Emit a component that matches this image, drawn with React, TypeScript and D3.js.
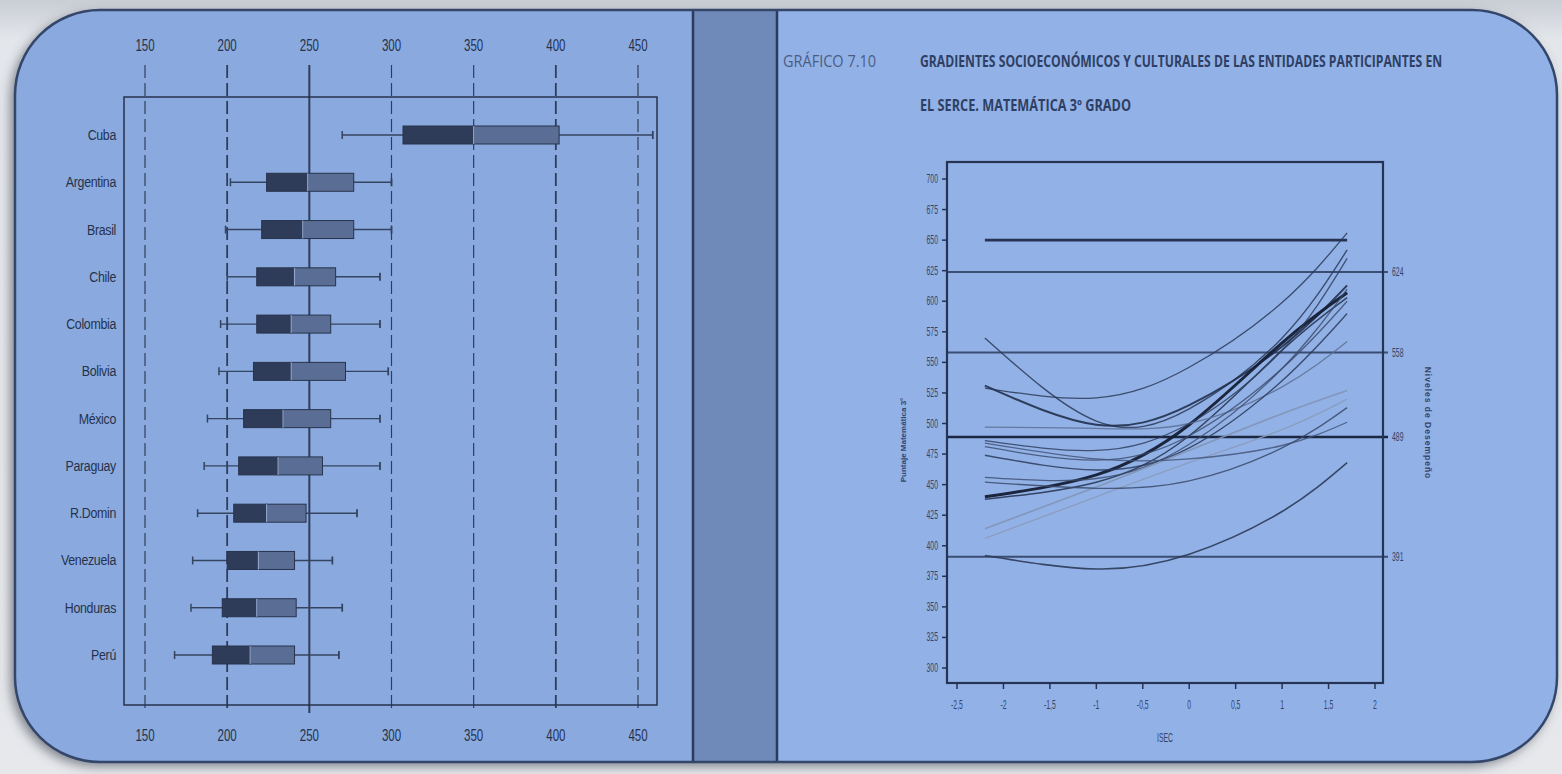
import React, { useEffect, useRef, useState } from "react";
import * as d3 from "d3";

// ---------- Left panel: box plots ----------
const countries = ["Cuba", "Argentina", "Brasil", "Chile", "Colombia", "Bolivia", "México", "Paraguay", "R.Domin", "Venezuela", "Honduras", "Perú"];
const whiskerLow = [270, 202, 199, 200, 196, 195, 188, 186, 182, 179, 178, 168];
const q1 = [307, 224, 221, 218, 218, 216, 210, 207, 204, 200, 197, 191];
const median = [350, 249, 246, 241, 239, 239, 234, 231, 224, 219, 218, 214];
const q3 = [402, 277, 277, 266, 263, 272, 263, 258, 248, 241, 242, 241];
const whiskerHigh = [459, 300, 300, 293, 293, 298, 293, 293, 279, 264, 270, 268];
const leftTicks = [150, 200, 250, 300, 350, 400, 450];

// ---------- Right panel: socioeconomic gradients ----------
const isecPoints = [-2.2, -1, 0, 1, 1.7];
const gradC = [529, 521, 546, 599, 656];
const gradA = [570, 502, 512, 570, 642];
const gradB = [531, 499, 515, 563, 613];
const gradThick1 = [440, 458, 499, 566, 607];
const gradThick2 = [438, 452, 490, 560, 603];
const gradFlat = [497, 496, 500, 530, 567];
const grad486 = [486, 478, 500, 560, 635];
const grad481 = [481, 470, 490, 545, 600];
const grad474 = [474, 462, 480, 535, 590];
const grad456 = [456, 455, 483, 545, 610];
const gradLight1 = [414, 448, 478, 508, 527];
const gradLight2 = [406, 440, 468, 495, 520];
const grad484 = [484, 471, 471, 482, 501];
const grad452 = [452, 447, 453, 480, 513];
const gradBottom = [392, 381, 393, 428, 468];
const topRefLine = [650, 650];
const topRefX = [-2.2, 1.7];
const levelCuts = [624, 558, 489, 391];
const levelLabels = ["624", "558", "489", "391"];
const xTicksR = [-2.5, -2, -1.5, -1, -0.5, 0, 0.5, 1, 1.5, 2];
const xTickLabelsR = ["-2,5", "-2", "-1,5", "-1", "-0,5", "0", "0,5", "1", "1,5", "2"];
const yTicksR = [300, 325, 350, 375, 400, 425, 450, 475, 500, 525, 550, 575, 600, 625, 650, 675, 700];

const chartLabel = "GRÁFICO 7.10";
const titleLine1 = "GRADIENTES SOCIOECONÓMICOS Y CULTURALES DE LAS ENTIDADES PARTICIPANTES EN";
const titleLine2 = "EL SERCE. MATEMÁTICA 3º GRADO";

const W = 1562;
const H = 774;

function FitText(props: { x: number; y: number; width: number; text: string; fontSize: number; fontWeight?: number; fill: string }) {
  const ref = useRef<SVGTextElement>(null);
  const [sx, setSx] = useState(0.75);
  useEffect(() => {
    if (ref.current) {
      const len = ref.current.getComputedTextLength();
      if (len > 0) setSx(props.width / len);
    }
  }, [props.text, props.width]);
  return (
    <text
      ref={ref}
      transform={`translate(${props.x},${props.y}) scale(${sx},1)`}
      fontFamily="'Open Sans', sans-serif"
      fontSize={props.fontSize}
      fontWeight={props.fontWeight || 400}
      fill={props.fill}
    >
      {props.text}
    </text>
  );
}

export default function App() {
  const xL = d3.scaleLinear().domain([150, 450]).range([145, 638]);
  const yL = d3.scalePoint<string>().domain(countries).range([135, 655]);

  const xR = d3.scaleLinear().domain([-2.5, 2]).range([957, 1375]);
  const yR = d3.scaleLinear().domain([300, 700]).range([668, 179]);

  const line = d3
    .line<number>()
    .x((_, i) => xR(isecPoints[i]))
    .y((v) => yR(v))
    .curve(d3.curveNatural);

  const curves: { d: number[]; color: string; w: number; op: number }[] = [
    { d: gradC, color: "#2c3a58", w: 1.3, op: 0.85 },
    { d: gradA, color: "#2c3a58", w: 1.4, op: 0.85 },
    { d: gradB, color: "#22304c", w: 2, op: 0.9 },
    { d: gradThick1, color: "#151f35", w: 3, op: 0.95 },
    { d: gradThick2, color: "#22304c", w: 1.5, op: 0.85 },
    { d: gradFlat, color: "#5d6f93", w: 1.3, op: 0.85 },
    { d: grad486, color: "#2c3a58", w: 1.3, op: 0.8 },
    { d: grad481, color: "#3a4968", w: 1.3, op: 0.8 },
    { d: grad474, color: "#2c3a58", w: 1.4, op: 0.85 },
    { d: grad456, color: "#3a4968", w: 1.3, op: 0.8 },
    { d: gradLight1, color: "#8193b4", w: 1.6, op: 0.9 },
    { d: gradLight2, color: "#8a9bba", w: 1.4, op: 0.9 },
    { d: grad484, color: "#44557a", w: 1.3, op: 0.85 },
    { d: grad452, color: "#3a4968", w: 1.3, op: 0.85 },
    { d: gradBottom, color: "#2c3a58", w: 1.6, op: 0.9 },
  ];

  const dark = "#26324d";
  const boxH = 18;
  const tickFill = "#34446a";

  return (
    <svg width={W} height={H} style={{ position: "absolute", left: 0, top: 0 }} fontFamily="'Liberation Sans', Arial, sans-serif">
      <defs>
        <filter id="shadow" x="-5%" y="-5%" width="110%" height="110%">
          <feDropShadow dx="-4" dy="4" stdDeviation="6" floodColor="#4a4f5a" floodOpacity="0.7" />
        </filter>
        <clipPath id="card">
          <rect x={15} y={10} width={1542} height={752} rx={85} ry={85} />
        </clipPath>
        <linearGradient id="bgGrad" x1="0" y1="0" x2="0" y2="1">
          <stop offset="0" stopColor="#c9cdd4" />
          <stop offset="0.05" stopColor="#e3e6eb" />
          <stop offset="1" stopColor="#e6e8ec" />
        </linearGradient>
      </defs>

      <rect x={0} y={0} width={W} height={H} fill="url(#bgGrad)" />
      <rect x={15} y={10} width={1542} height={752} rx={85} ry={85} fill="#8aaade" filter="url(#shadow)" />

      <g clipPath="url(#card)">
        <rect x={15} y={10} width={680} height={752} fill="#8aaadf" />
        <rect x={693} y={10} width={84} height={752} fill="#6f8ab8" />
        <rect x={777} y={10} width={780} height={752} fill="#92b2e7" />
        <line x1={693} x2={693} y1={10} y2={762} stroke="#2b3b5c" strokeWidth={2.5} />
        <line x1={777} x2={777} y1={10} y2={762} stroke="#2b3b5c" strokeWidth={2.5} />
      </g>
      <rect x={15} y={10} width={1542} height={752} rx={85} ry={85} fill="none" stroke="#34466a" strokeWidth={2.5} />

      {/* ---------------- Left panel ---------------- */}
      <g>
        {leftTicks.map((t) => (
          <line
            key={"g" + t}
            x1={xL(t)}
            x2={xL(t)}
            y1={65}
            y2={713}
            stroke={dark}
            strokeWidth={t === 250 ? 2 : t === 200 || t === 400 ? 1.8 : 1.2}
            strokeDasharray={t === 250 ? undefined : "13,5"}
            opacity={0.9}
          />
        ))}
        <rect x={124} y={97} width={533} height={608} fill="none" stroke={dark} strokeWidth={1.5} />
        {leftTicks.map((t) => (
          <g key={"tl" + t} fill={dark} fontSize={16} textAnchor="middle">
            <text transform={`translate(${xL(t)},51) scale(0.72,1)`}>{t}</text>
            <text transform={`translate(${xL(t)},741) scale(0.72,1)`}>{t}</text>
          </g>
        ))}
        {countries.map((c, i) => {
          const y = yL(c) as number;
          return (
            <g key={c}>
              <text transform={`translate(116,${y + 5}) scale(0.8,1)`} textAnchor="end" fontSize={15.5} fill={dark} letterSpacing={-0.4}>
                {c}
              </text>
              <line x1={xL(whiskerLow[i])} x2={xL(q1[i])} y1={y} y2={y} stroke="#34435f" strokeWidth={1.4} />
              <line x1={xL(q3[i])} x2={xL(whiskerHigh[i])} y1={y} y2={y} stroke="#34435f" strokeWidth={1.4} />
              <line x1={xL(whiskerLow[i])} x2={xL(whiskerLow[i])} y1={y - 4} y2={y + 4} stroke="#34435f" strokeWidth={1.5} />
              <line x1={xL(whiskerHigh[i])} x2={xL(whiskerHigh[i])} y1={y - 4} y2={y + 4} stroke="#34435f" strokeWidth={1.8} />
              <rect x={xL(q1[i])} y={y - boxH / 2} width={xL(median[i]) - xL(q1[i])} height={boxH} fill="#2f3c59" stroke="#27334d" strokeWidth={1} />
              <rect x={xL(median[i])} y={y - boxH / 2} width={xL(q3[i]) - xL(median[i])} height={boxH} fill="#5a6e95" stroke="#27334d" strokeWidth={1} />
              <line x1={xL(median[i])} x2={xL(median[i])} y1={y - boxH / 2} y2={y + boxH / 2} stroke="#8fa4c8" strokeWidth={1.2} />
            </g>
          );
        })}
      </g>

      {/* ---------------- Right panel ---------------- */}
      <g>
        <FitText x={783} y={67} width={93} text={chartLabel} fontSize={16} fill="#4a5c82" />
        <FitText x={920} y={67} width={522} text={titleLine1} fontSize={16} fontWeight={700} fill="#2f3f63" />
        <FitText x={920} y={111} width={211} text={titleLine2} fontSize={16} fontWeight={700} fill="#2f3f63" />

        {/* reference lines */}
        {levelCuts.map((v) => (
          <line
            key={"lv" + v}
            x1={947}
            x2={1388}
            y1={yR(v)}
            y2={yR(v)}
            stroke={v === 489 ? "#1b2640" : "#3b4d72"}
            strokeWidth={v === 489 ? 2.6 : 2}
          />
        ))}
        <line x1={xR(topRefX[0])} x2={xR(topRefX[1])} y1={yR(topRefLine[0])} y2={yR(topRefLine[1])} stroke="#263352" strokeWidth={2.6} />

        {curves.map((c, i) => (
          <path key={"c" + i} d={line(c.d) || ""} fill="none" stroke={c.color} strokeWidth={c.w} opacity={c.op} />
        ))}

        <rect x={947} y={162} width={436} height={521} fill="none" stroke="#263352" strokeWidth={2.2} />

        {yTicksR.map((t) => (
          <g key={"yt" + t}>
            <line x1={942} x2={947} y1={yR(t)} y2={yR(t)} stroke="#263352" strokeWidth={1.5} />
            <text transform={`translate(938,${yR(t) + 4}) scale(0.55,1)`} textAnchor="end" fontSize={12.5} fill={tickFill}>
              {t}
            </text>
          </g>
        ))}
        {xTicksR.map((t, i) => (
          <g key={"xt" + t}>
            <line x1={xR(t)} x2={xR(t)} y1={683} y2={689} stroke="#263352" strokeWidth={1.5} />
            <text transform={`translate(${xR(t)},709) scale(0.55,1)`} textAnchor="middle" fontSize={12.5} fill={tickFill}>
              {xTickLabelsR[i]}
            </text>
          </g>
        ))}
        {levelCuts.map((v, i) => (
          <text key={"ll" + v} transform={`translate(1392,${yR(v) + 4}) scale(0.55,1)`} fontSize={12.5} fill={tickFill}>
            {levelLabels[i]}
          </text>
        ))}
        <text transform={`translate(1165,742) scale(0.55,1)`} textAnchor="middle" fontSize={12.5} fill={tickFill}>
          ISEC
        </text>
        <text transform="translate(906,440) rotate(-90)" textAnchor="middle" fontSize={8} fontWeight="bold" fill="#34446a">
          Puntaje Matemática 3°
        </text>
        <text transform="translate(1425,423) rotate(90)" textAnchor="middle" fontSize={8.5} fontWeight="bold" fill="#34446a" letterSpacing={1}>
          Niveles de Desempeño
        </text>
      </g>
    </svg>
  );
}
